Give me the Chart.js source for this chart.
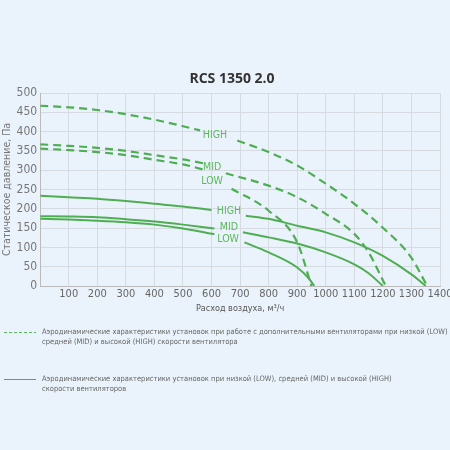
<!DOCTYPE html>
<html>
<head>
<meta charset="utf-8">
<script src="https://cdn.jsdelivr.net/npm/chart.js@4"></script>
<style>
  html, body { margin: 0; padding: 0; background: #eaf3fb; }
  #wrap { position: relative; width: 450px; height: 450px; }
  #grafico { position: absolute; left: 0; top: 0; }
  #titulo { position: absolute; left: 132px; width: 200px; top: 69px; text-align: center; font-family: 'Open Sans', sans-serif; font-weight: bold; font-size: 14px; line-height: 18px; color: #333; }
  .leg { position: absolute; left: 2px; width: 446px; font-family: 'Liberation Sans Narrow', 'DejaVu Sans Condensed', sans-serif; font-size: 7.5px; line-height: 10px; color: #666; }
  .leg .amostra { position: absolute; left: 2px; top: 5px; width: 32px; height: 1px; }
  .leg .texto { margin-left: 40px; }
</style>
</head>
<body>
<div id="wrap">
  <canvas id="grafico" width="450" height="450"></canvas>
  <div id="titulo">RCS 1350 2.0</div>
  <div class="leg" style="top:327px">
    <div class="amostra" style="background:repeating-linear-gradient(90deg,#5cb85c 0 3px,transparent 3px 5px)"></div>
    <div class="texto">Аэродинамические характеристики установок при работе с дополнительными вентиляторами при низкой (LOW)<br>средней (MID) и высокой (HIGH) скорости вентилятора</div>
  </div>
  <div class="leg" style="top:374px">
    <div class="amostra" style="background:#4fae54"></div>
    <div class="texto">Аэродинамические характеристики установок при низкой (LOW), средней (MID) и высокой (HIGH)<br>скорости вентиляторов</div>
  </div>
</div>
<script>
// dados (vazão m³/h x pressão Pa); null = intervalo do rótulo
const highTracX = [0, 100, 200, 300, 400, 500, 560, null, 690, 800, 900, 1000, 1100, 1200, 1300, 1355];
const highTracY = [467, 463, 456, 445, 431, 414, 403, null, 377, 347, 312, 265, 213, 151, 73, 0];
const midTracX = [0, 100, 200, 300, 400, 500, 570, null, 650, 800, 900, 1000, 1100, 1150, 1210];
const midTracY = [367, 363, 358, 350, 339, 328, 318, null, 292, 260, 230, 187, 135, 87, 0];
const lowTracX = [0, 100, 200, 300, 400, 500, 570, null, 670, 800, 900, 950];
const lowTracY = [356, 352, 347, 339, 327, 315, 302, null, 252, 195, 113, 0];

const highX = [0, 100, 200, 300, 400, 500, 600, null, 720, 800, 900, 1000, 1100, 1200, 1300, 1350];
const highY = [234, 230, 226, 220, 213, 206, 197, null, 182, 174, 156, 139, 113, 78, 30, 0];
const midX = [0, 100, 200, 300, 400, 500, 610, null, 710, 800, 900, 1000, 1100, 1150, 1200];
const midY = [181, 180, 178, 173, 167, 159, 149, null, 139, 126, 110, 87, 56, 33, 0];
const lowX = [0, 100, 200, 300, 400, 500, 610, null, 715, 800, 900, 940, 960];
const lowY = [174, 172, 169, 165, 159, 149, 134, null, 113, 87, 48, 20, 0];

// rótulos das curvas
const rotulos = ['HIGH', 'MID', 'LOW', 'HIGH', 'MID', 'LOW'];
const rotulosX = [612, 602, 602, 661, 661, 658];
const rotulosY = [390, 307, 271, 193, 151, 122];

const VERDE = '#4fae54';
const FONTE = "'Liberation Sans Narrow', 'DejaVu Sans Condensed', sans-serif";

function pontos(xs, ys) {
    return xs.map((x, i) => x === null ? { x: null, y: null } : { x: x, y: ys[i] });
}

function serie(xs, ys, tracejada) {
    return {
        data: pontos(xs, ys),
        borderColor: VERDE,
        borderWidth: tracejada ? 2.2 : 2,
        borderDash: tracejada ? [8, 5] : [],
        pointRadius: 0,
        fill: false,
        tension: 0.4,
        cubicInterpolationMode: 'monotone',
        spanGaps: false
    };
}

// plugin simples pra escrever HIGH/MID/LOW no meio das curvas
const pluginRotulos = {
    id: 'rotulos',
    afterDatasetsDraw(chart) {
        const ctx = chart.ctx;
        const sx = chart.scales.x, sy = chart.scales.y;
        ctx.save();
        ctx.font = '10.5px ' + FONTE;
        ctx.fillStyle = '#5cb85c';
        ctx.textAlign = 'center';
        ctx.textBaseline = 'middle';
        rotulos.forEach((t, i) => {
            ctx.fillText(t, sx.getPixelForValue(rotulosX[i]), sy.getPixelForValue(rotulosY[i]));
        });
        ctx.restore();
    }
};

new Chart(document.getElementById('grafico'), {
    type: 'line',
    data: {
        datasets: [
            serie(highTracX, highTracY, true),
            serie(midTracX, midTracY, true),
            serie(lowTracX, lowTracY, true),
            serie(highX, highY, false),
            serie(midX, midY, false),
            serie(lowX, lowY, false)
        ]
    },
    options: {
        responsive: false,
        animation: false,
        layout: { padding: { top: 93, right: 10, bottom: 136, left: 1 } },
        plugins: {
            legend: { display: false },
            tooltip: { enabled: false },
            title: { display: false }
        },
        scales: {
            x: {
                type: 'linear',
                min: 0,
                max: 1400,
                afterFit: s => { s.paddingRight = 0; },
                ticks: {
                    stepSize: 100,
                    color: '#666',
                    font: { family: FONTE, size: 11 },
                    padding: 2,
                    maxRotation: 0,
                    callback: v => v === 0 ? '' : v
                },
                grid: { color: '#d5dbe1', drawTicks: false },
                border: { color: '#bbb' },
                title: {
                    display: true,
                    text: 'Расход воздуха, м³/ч',
                    color: '#555',
                    font: { family: FONTE, size: 9 },
                    padding: { top: 0, bottom: 0 }
                }
            },
            y: {
                min: 0,
                max: 500,
                afterFit: s => { s.paddingTop = 0; },
                ticks: {
                    stepSize: 50,
                    color: '#777',
                    font: { family: FONTE, size: 12 },
                    padding: 3
                },
                grid: { color: '#d5dbe1', drawTicks: false },
                border: { color: '#bbb' },
                title: {
                    display: true,
                    text: 'Статическое давление, Па',
                    color: '#777',
                    font: { family: FONTE, size: 10.5 },
                    padding: { top: 0, bottom: 0 }
                }
            }
        }
    },
    plugins: [pluginRotulos]
});
</script>
</body>
</html>
